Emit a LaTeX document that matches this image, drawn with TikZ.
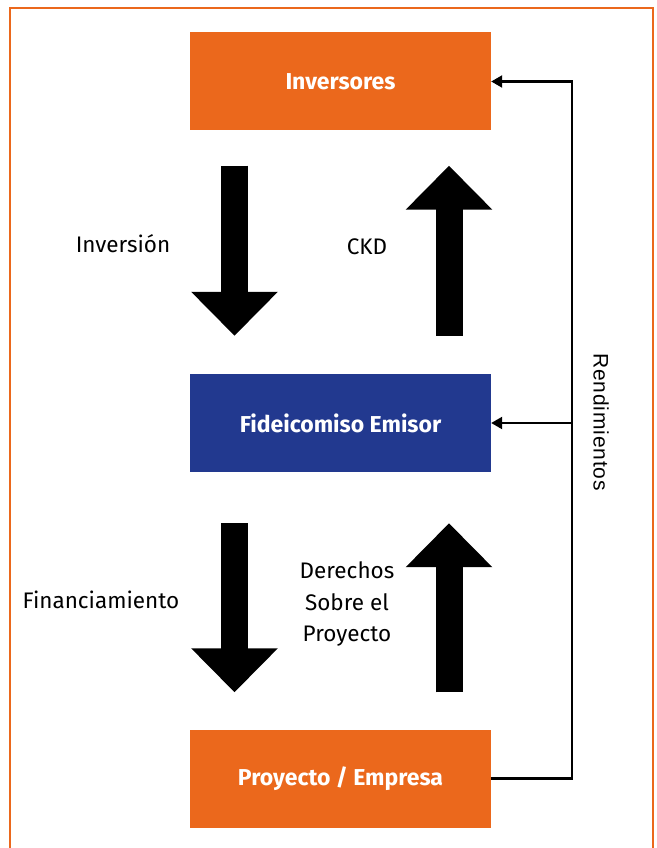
\documentclass[tikz,border=0pt]{standalone}
\usepackage{fontspec}
\newfontfamily\dinfont{Fira Sans}[FakeStretch=1.0]
\newfontfamily\arialfont{Liberation Sans}[LetterSpace=4]
\usepackage{tikz}
\usetikzlibrary{arrows.meta,positioning}
\definecolor{naranja}{RGB}{235,104,28}
\definecolor{azul}{RGB}{34,57,143}
\tikzstyle{box} = [rectangle, minimum width=301pt, minimum height=98pt, inner sep=0pt, text=white, font=\dinfont\bfseries\fontsize{23}{28}\selectfont]
\tikzstyle{label} = [inner sep=0pt, align=center, font=\dinfont\fontsize{22.5}{31.5}\selectfont]
\tikzstyle{bigarrow} = [draw, line width=27pt, -{Triangle[length=44pt 0 0, width=84pt 0 0]}]
\tikzstyle{line} = [draw, line width=2pt, color=black, -]
\tikzstyle{arrow} = [draw, line width=2.2pt, color=black, -{Triangle[length=11pt 0 0, width=12pt 0 0]}]

\begin{document}
\begin{tikzpicture} [x=1pt, y=-1pt]

  \useasboundingbox (0,0) rectangle (656,848);
  \draw[naranja, line width=1.5pt] (10,848) -- (10,8) -- (653,8) -- (653,848);

  \node[box, fill=naranja] (inv) at (340.5,81.5) {Inversores};
  \node[box, fill=azul] (fid) at (340.5,423) {Fideicomiso Emisor};
  \node[box, fill=naranja] (pro) at (340.5,778.5) {Proyecto / Empresa};

  \draw[bigarrow, shorten <=35pt, shorten >=38pt] ([xshift=-106pt]inv.south) -- ([xshift=-106pt]fid.north);
  \draw[bigarrow, shorten <=38pt, shorten >=35pt] ([xshift=108.5pt]fid.north) -- ([xshift=108.5pt]inv.south);
  \draw[bigarrow, shorten <=51pt, shorten >=37pt] ([xshift=-106pt]fid.south) -- ([xshift=-106pt]pro.north);
  \draw[bigarrow, shorten <=37pt, shorten >=51pt] ([xshift=108.5pt]pro.north) -- ([xshift=108.5pt]fid.south);

  \node[label] (inversion) at (123,244) {Inversión};
  \node[label] (ckd) at (367,247) {CKD};
  \node[label] (financ) at (101,600) {Financiamiento};
  \node[label] (derechos) at (347,604) {Derechos\\Sobre el\\Proyecto};

  \coordinate (rline) at (572,0);
  \draw[arrow] (pro.east) -- (pro.east -| rline) |- (inv.east);
  \draw[arrow] (rline |- fid.east) -- (fid.east);

  \node[rotate=-90, inner sep=0pt, font=\arialfont\fontsize{21}{24}\selectfont] (rend) at (601,422) {Rendimientos};

\end{tikzpicture}
\end{document}
